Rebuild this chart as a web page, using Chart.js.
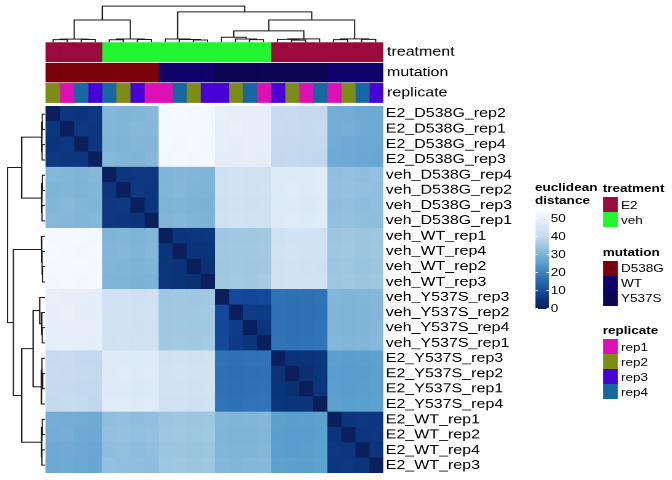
<!DOCTYPE html>
<html>
<head>
<meta charset="utf-8">
<script src="https://cdn.jsdelivr.net/npm/chart.js@4.4.0/dist/chart.umd.min.js"></script>
<style>
  body { margin: 0; background: #fff; }
  #page {
    position: relative; width: 546px; height: 480px;
    transform: scaleX(1.2308); transform-origin: 0 0;
    font-family: 'Liberation Sans', Arial, sans-serif; color: #000;
  }
  .box { position: absolute; }
  .lg { position: absolute; font-size: 11px; line-height: 12px; white-space: nowrap; }
  .lg.title { font-weight: bold; line-height: 12.5px; }
</style>
</head>
<body>
<div id="page">
  <div class="box" style="left:36.56px;top:5px;width:274.4px;height:38px"><canvas id="topDend"></canvas></div>
  <div class="box" style="left:4.87px;top:106px;width:31.69px;height:366.7px"><canvas id="leftDend"></canvas></div>
  <div class="box" style="left:36.56px;top:42px;width:364.4px;height:60.6px"><canvas id="annot"></canvas></div>
  <div class="box" style="left:36.56px;top:106px;width:394.4px;height:366.7px"><canvas id="heat"></canvas></div>
</div>
<script>
// sample order (rows and columns are the same, as clustered)
const samples = [
  'E2_D538G_rep2', 'E2_D538G_rep1', 'E2_D538G_rep4', 'E2_D538G_rep3',
  'veh_D538G_rep4', 'veh_D538G_rep2', 'veh_D538G_rep3', 'veh_D538G_rep1',
  'veh_WT_rep1', 'veh_WT_rep4', 'veh_WT_rep2', 'veh_WT_rep3',
  'veh_Y537S_rep3', 'veh_Y537S_rep2', 'veh_Y537S_rep4', 'veh_Y537S_rep1',
  'E2_Y537S_rep3', 'E2_Y537S_rep2', 'E2_Y537S_rep1', 'E2_Y537S_rep4',
  'E2_WT_rep1', 'E2_WT_rep2', 'E2_WT_rep4', 'E2_WT_rep3'
];

// euclidean distances
const dist = [
  [0, 5.6, 5.4, 5.9, 30.8, 30.2, 30.5, 31.0, 53.2, 53.5, 53.0, 52.8, 49.8, 49.5, 49.2, 49.6, 40.2, 40.5, 40.0, 39.8, 28.8, 28.5, 28.0, 27.6],
  [5.6, 0, 5.8, 5.5, 30.6, 30.4, 30.9, 30.7, 53.4, 53.1, 53.3, 52.9, 49.6, 49.9, 49.4, 49.3, 40.6, 40.2, 40.1, 40.4, 28.6, 28.9, 28.2, 27.9],
  [5.4, 5.8, 0, 5.6, 30.3, 30.1, 30.6, 30.4, 53.0, 52.8, 53.2, 52.6, 49.2, 49.0, 49.5, 49.1, 39.8, 40.1, 39.6, 39.9, 28.3, 28.0, 27.7, 27.4],
  [5.9, 5.5, 5.6, 0, 30.9, 30.5, 30.2, 30.8, 52.7, 53.0, 52.5, 52.9, 49.0, 48.8, 49.3, 48.7, 39.5, 39.8, 39.4, 39.2, 28.0, 27.6, 27.2, 27.0],
  [30.8, 30.6, 30.3, 30.9, 0, 5.5, 5.8, 5.7, 30.2, 30.6, 30.4, 30.0, 42.8, 43.2, 42.9, 43.0, 46.8, 47.0, 46.6, 47.2, 32.4, 32.8, 32.2, 32.6],
  [30.2, 30.4, 30.1, 30.5, 5.5, 0, 5.9, 5.6, 30.5, 30.8, 30.3, 30.1, 43.1, 43.4, 43.0, 43.3, 47.1, 47.3, 46.9, 47.4, 32.6, 32.9, 32.5, 32.3],
  [30.5, 30.9, 30.6, 30.2, 5.8, 5.9, 0, 5.4, 30.0, 30.3, 29.8, 29.6, 42.6, 43.0, 42.7, 42.8, 46.7, 46.9, 46.5, 47.0, 32.2, 32.5, 32.0, 32.4],
  [31.0, 30.7, 30.4, 30.8, 5.7, 5.6, 5.4, 0, 30.4, 30.7, 30.2, 29.9, 43.0, 43.3, 42.8, 43.1, 47.0, 47.2, 46.8, 47.3, 32.5, 32.7, 32.3, 32.1],
  [53.2, 53.4, 53.0, 52.7, 30.2, 30.5, 30.0, 30.4, 0, 5.4, 5.6, 5.5, 34.2, 34.6, 34.4, 34.8, 43.0, 43.4, 43.2, 42.9, 34.0, 34.3, 33.8, 34.1],
  [53.5, 53.1, 52.8, 53.0, 30.6, 30.8, 30.3, 30.7, 5.4, 0, 4.8, 5.0, 34.5, 34.9, 34.7, 35.0, 43.3, 43.6, 43.4, 43.1, 34.2, 34.5, 34.0, 34.3],
  [53.0, 53.3, 53.2, 52.5, 30.4, 30.3, 29.8, 30.2, 5.6, 4.8, 0, 4.2, 34.3, 34.7, 34.5, 34.9, 42.8, 43.2, 43.0, 42.7, 33.8, 34.1, 33.6, 33.9],
  [52.8, 52.9, 52.6, 52.9, 30.0, 30.1, 29.6, 29.9, 5.5, 5.0, 4.2, 0, 34.6, 35.0, 34.8, 35.2, 43.1, 43.5, 43.3, 43.0, 34.1, 34.4, 33.9, 34.2],
  [49.8, 49.6, 49.2, 49.0, 42.8, 43.1, 42.6, 43.0, 34.2, 34.5, 34.3, 34.6, 0, 8.6, 8.4, 8.7, 17.2, 16.8, 17.0, 17.4, 30.6, 30.2, 30.4, 30.8],
  [49.5, 49.9, 49.0, 48.8, 43.2, 43.4, 43.0, 43.3, 34.6, 34.9, 34.7, 35.0, 8.6, 0, 6.4, 6.3, 16.9, 16.5, 16.7, 17.0, 30.3, 30.0, 30.2, 30.5],
  [49.2, 49.4, 49.5, 49.3, 42.9, 43.0, 42.7, 42.8, 34.4, 34.7, 34.5, 34.8, 8.4, 6.4, 0, 5.2, 17.1, 16.7, 16.9, 17.3, 30.5, 30.1, 30.3, 30.7],
  [49.6, 49.3, 49.1, 48.7, 43.0, 43.3, 42.8, 43.1, 34.8, 35.0, 34.9, 35.2, 8.7, 6.3, 5.2, 0, 17.3, 16.9, 17.1, 17.5, 30.7, 30.4, 30.6, 31.0],
  [40.2, 40.6, 39.8, 39.5, 46.8, 47.1, 46.7, 47.0, 43.0, 43.3, 42.8, 43.1, 17.2, 16.9, 17.1, 17.3, 0, 5.0, 5.2, 5.6, 25.2, 24.8, 25.0, 25.4],
  [40.5, 40.2, 40.1, 39.8, 47.0, 47.3, 46.9, 47.2, 43.4, 43.6, 43.2, 43.5, 16.8, 16.5, 16.7, 16.9, 5.0, 0, 4.0, 5.3, 24.9, 24.5, 24.7, 25.1],
  [40.0, 40.1, 39.6, 39.4, 46.6, 46.9, 46.5, 46.8, 43.2, 43.4, 43.0, 43.3, 17.0, 16.7, 16.9, 17.1, 5.2, 4.0, 0, 5.4, 25.0, 24.6, 24.8, 25.2],
  [39.8, 40.4, 39.9, 39.2, 47.2, 47.4, 47.0, 47.3, 42.9, 43.1, 42.7, 43.0, 17.4, 17.0, 17.3, 17.5, 5.6, 5.3, 5.4, 0, 25.4, 25.0, 25.2, 25.6],
  [28.8, 28.6, 28.3, 28.0, 32.4, 32.6, 32.2, 32.5, 34.0, 34.2, 33.8, 34.1, 30.6, 30.3, 30.5, 30.7, 25.2, 24.9, 25.0, 25.4, 0, 5.4, 5.8, 5.6],
  [28.5, 28.9, 28.0, 27.6, 32.8, 32.9, 32.5, 32.7, 34.3, 34.5, 34.1, 34.4, 30.2, 30.0, 30.1, 30.4, 24.8, 24.5, 24.6, 25.0, 5.4, 0, 5.6, 5.7],
  [28.0, 28.2, 27.7, 27.2, 32.2, 32.5, 32.0, 32.3, 33.8, 34.0, 33.6, 33.9, 30.4, 30.2, 30.3, 30.6, 25.0, 24.7, 24.8, 25.2, 5.8, 5.6, 0, 5.2],
  [27.6, 27.9, 27.4, 27.0, 32.6, 32.3, 32.4, 32.1, 34.1, 34.3, 33.9, 34.2, 30.8, 30.5, 30.7, 31.0, 25.4, 25.1, 25.2, 25.6, 5.6, 5.7, 5.2, 0]
];

// clustering tree: [left, right, merge height], leaves are sample indices
const tree = [
  [[[0, 1, 4.2], [2, 3, 4.4], 5.0], [[4, 5, 4.0], [6, 7, 4.5], 5.2], 33.5],
  [[8, [9, [10, 11, 3.8], 4.4], 5.2],
   [[[12, [13, [14, 15, 4.2], 5.2], 7.8], [[16, [17, 18, 3.6], 4.6], 19, 5.4], 17.2],
    [[20, 21, 4.2], [22, 23, 4.6], 5.4], 33.5],
   45.5],
  54
];

const annotNames = ['treatment', 'mutation', 'replicate'];
const treatmentLevels = ['E2', 'veh'];
const treatmentColors = ['#9B0A3C', '#22F530'];
const mutationLevels = ['D538G', 'WT', 'Y537S'];
const mutationColors = ['#7A0009', '#10006A', '#0B0552'];
const replicateLevels = ['rep1', 'rep2', 'rep3', 'rep4'];
const replicateColors = ['#DE10B5', '#7C8C17', '#4800D8', '#1767A0'];

const legendTicks = [0, 10, 20, 30, 40, 50];
const rampStops = [
  [0, '#0A1F5C'], [5, '#0B3478'], [8.5, '#13479A'], [17, '#2E72B6'], [25, '#5AA0CE'],
  [28.5, '#73ACD4'], [30.5, '#82B6D8'], [33, '#95C2DF'], [34.5, '#A0C8E1'], [40, '#C6DAEF'],
  [43, '#D0E1F2'], [47, '#DEEBF7'], [49.5, '#E6EFF9'], [53, '#F4F9FE'], [55, '#F7FBFF']
];

Chart.defaults.font.family = "'Liberation Sans', Arial, sans-serif";
Chart.defaults.color = '#000';

function hexToRgb(h) {
  const n = parseInt(h.slice(1), 16);
  return [(n >> 16) & 255, (n >> 8) & 255, n & 255];
}

function valueColor(v) {
  for (let k = 1; k < rampStops.length; k++) {
    if (v <= rampStops[k][0] || k === rampStops.length - 1) {
      const [v0, c0] = rampStops[k - 1];
      const [v1, c1] = rampStops[k];
      const t = Math.max(0, Math.min(1, (v - v0) / (v1 - v0)));
      const a = hexToRgb(c0), b = hexToRgb(c1);
      return 'rgb(' + a.map((x, i) => Math.round(x + (b[i] - x) * t)).join(',') + ')';
    }
  }
}

function dendroSegments(node, segs) {
  if (typeof node === 'number') return { pos: node + 0.5, h: 0 };
  const l = dendroSegments(node[0], segs);
  const r = dendroSegments(node[1], segs);
  const h = node[2];
  segs.push([[l.pos, l.h], [l.pos, h], [r.pos, h], [r.pos, r.h]]);
  return { pos: (l.pos + r.pos) / 2, h: h };
}

const segs = [];
dendroSegments(tree, segs);

function lineSet(points) {
  return {
    data: points, showLine: true, borderColor: '#1a1a1a', borderWidth: 1,
    pointRadius: 0, fill: false, tension: 0
  };
}

const baseOpts = {
  responsive: true, maintainAspectRatio: false, animation: false, devicePixelRatio: 2,
  layout: { padding: 0 },
  plugins: { legend: { display: false }, tooltip: { enabled: false } }
};

// label axis on the right, fixed width, no extra top/bottom padding
function fitLabels(width) {
  return scale => {
    scale.width = width;
    scale.paddingTop = 0;
    scale.paddingBottom = 0;
  };
}

// column dendrogram
new Chart(document.getElementById('topDend'), {
  type: 'scatter',
  data: { datasets: segs.map(s => lineSet(s.map(p => ({ x: p[0], y: p[1] })))) },
  options: Object.assign({}, baseOpts, {
    scales: {
      x: { type: 'linear', min: 0, max: 24, display: false },
      y: { type: 'linear', min: 0, max: 55, display: false }
    }
  })
});

// row dendrogram
new Chart(document.getElementById('leftDend'), {
  type: 'scatter',
  data: { datasets: segs.map(s => lineSet(s.map(p => ({ x: p[1], y: p[0] })))) },
  options: Object.assign({}, baseOpts, {
    scales: {
      x: { type: 'linear', min: 0, max: 55, reverse: true, display: false },
      y: { type: 'linear', min: 0, max: 24, reverse: true, display: false }
    }
  })
});

// column annotations
const annotDatasets = samples.map(s => {
  const parts = s.split('_');
  return {
    label: s,
    data: annotNames.map(() => 1),
    backgroundColor: [
      treatmentColors[treatmentLevels.indexOf(parts[0])],
      mutationColors[mutationLevels.indexOf(parts[1])],
      replicateColors[replicateLevels.indexOf(parts[2])]
    ],
    borderWidth: 0, barPercentage: 0.935, categoryPercentage: 1, inflateAmount: 0.4
  };
});

new Chart(document.getElementById('annot'), {
  type: 'bar',
  data: { labels: annotNames, datasets: annotDatasets },
  options: Object.assign({}, baseOpts, {
    indexAxis: 'y',
    scales: {
      x: { stacked: true, min: 0, max: 24, display: false },
      y: {
        stacked: true, position: 'right',
        grid: { display: false, drawTicks: false }, border: { display: false },
        ticks: { font: { size: 13 }, padding: 3, color: '#000' },
        afterFit: fitLabels(90)
      }
    }
  })
});

// heatmap: one stacked dataset per column
const heatDatasets = samples.map((s, j) => ({
  label: s,
  data: samples.map(() => 1),
  backgroundColor: dist.map(row => valueColor(row[j])),
  borderWidth: 0, barPercentage: 1, categoryPercentage: 1
}));

new Chart(document.getElementById('heat'), {
  type: 'bar',
  data: { labels: samples, datasets: heatDatasets },
  options: Object.assign({}, baseOpts, {
    indexAxis: 'y',
    scales: {
      x: { stacked: true, min: 0, max: 24, display: false },
      y: {
        stacked: true, position: 'right',
        grid: { display: false, drawTicks: false }, border: { display: false },
        ticks: { font: { size: 13 }, padding: 2, color: '#000', autoSkip: false },
        afterFit: fitLabels(120)
      }
    }
  })
});

// legends
const page = document.getElementById('page');
function addDiv(cls, css, html) {
  const d = document.createElement('div');
  d.className = cls;
  d.style.cssText = css;
  if (html !== undefined) d.innerHTML = html;
  page.appendChild(d);
  return d;
}

// colour bar legend
const barTop = 210, barH = 99, barLeft = 434.7, barW = 11.4;
const lo = -0.5, hi = 54.5;
const grad = rampStops.map(s => s[1] + ' ' + ((s[0] - lo) / (hi - lo) * 100).toFixed(1) + '%').join(',');
addDiv('lg title', 'left:434.7px;top:181px', 'euclidean<br>distance');
addDiv('box', `left:${barLeft}px;top:${barTop}px;width:${barW}px;height:${barH}px;background:linear-gradient(to top, ${rampStops[0][1]} 0%, ${grad})`);
legendTicks.forEach(v => {
  const y = barTop + barH - (v - lo) / (hi - lo) * barH;
  addDiv('box', `left:${barLeft}px;top:${y - 0.5}px;width:2.4px;height:1px;background:#fff`);
  addDiv('box', `left:${barLeft + barW - 2.4}px;top:${y - 0.5}px;width:2.4px;height:1px;background:#fff`);
  addDiv('lg', `left:447.5px;top:${y - 6}px`, String(v));
});

// discrete legends
function discreteLegend(title, levels, colors, titleY) {
  addDiv('lg title', `left:489.7px;top:${titleY - 6.25}px`, title);
  levels.forEach((lv, i) => {
    const cy = titleY + 16.5 + i * 15;
    addDiv('box', `left:489.7px;top:${cy - 7.5}px;width:12px;height:15px;background:${colors[i]}`);
    addDiv('lg', `left:504.5px;top:${cy - 6}px`, lv);
  });
}
discreteLegend('treatment', treatmentLevels, treatmentColors, 188.3);
discreteLegend('mutation', mutationLevels, mutationColors, 251.8);
discreteLegend('replicate', replicateLevels, replicateColors, 330.3);
</script>
</body>
</html>
